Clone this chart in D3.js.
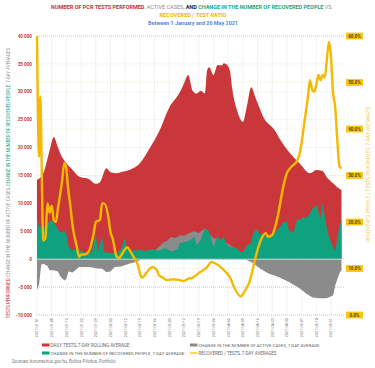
<!DOCTYPE html>
<html><head><meta charset="utf-8">
<script src="https://cdn.jsdelivr.net/npm/d3@7"></script>
<style>body{margin:0;background:#fff}svg{display:block;font-family:Roboto,"Liberation Sans",sans-serif}</style>
</head><body><svg id="c" width="375" height="368"></svg>
<script>
// ---------- DATA ----------
const testDates = ["2021-01-01","2021-01-04","2021-01-07","2021-01-09","2021-01-11","2021-01-12","2021-01-15","2021-01-18","2021-01-21","2021-01-26","2021-01-29","2021-01-31","2021-02-03","2021-02-05","2021-02-08","2021-02-11","2021-02-14","2021-02-19","2021-02-24","2021-02-28","2021-03-05","2021-03-10","2021-03-12","2021-03-14","2021-03-16","2021-03-18","2021-03-20","2021-03-22","2021-03-23","2021-03-24","2021-03-26","2021-03-28","2021-03-30","2021-03-31","2021-04-02","2021-04-03","2021-04-04","2021-04-06","2021-04-08","2021-04-09","2021-04-11","2021-04-13","2021-04-15","2021-04-17","2021-04-19","2021-04-22","2021-04-24","2021-04-27","2021-05-01","2021-05-06","2021-05-11","2021-05-14","2021-05-17","2021-05-19","2021-05-22","2021-05-24","2021-05-26"];
const testValues = [14200,15400,19500,21900,20000,19000,17200,16000,14800,14300,13500,13800,16300,15600,15400,15700,16000,17200,20100,22800,27200,29900,31500,33000,30300,29700,30200,29700,33800,34400,33000,34800,34700,35100,34600,33500,30500,27000,25000,24600,27500,30800,29000,27100,25300,24000,23200,21300,19200,17200,15400,16000,15800,14700,13600,12900,12400];

const recDays = [0,1,3,5,7,9,11,13,14,15,17,19,22,25,26,28,29,31,32,35,38,40,42,43,44,46,49,52,55,58,61,64,67,68,70,73,75,76,78,80,82,84,86,87,89,90,92,95,97,98,100,102,103,105,106,107,109,112,115,117,119,120,122,124,125,127,128,130,131,133,135,136,138,139,141,142,144,145];
const recValues = [7500,5800,5500,6500,7000,6000,4800,5000,4600,2200,1600,2000,1300,1100,1200,4500,1400,4000,1300,1100,1000,1800,3900,1400,1500,1600,1600,1500,1800,1500,2000,1400,1800,2900,3000,3400,4000,2500,3500,5500,5000,2200,4300,3400,4000,2800,2200,2000,1200,1300,2500,2900,4800,5400,4300,4800,4000,4300,5500,6500,6800,5200,4700,7300,7000,7600,7300,8200,9000,9700,7300,10000,5700,4000,2200,1500,6000,7000];

const actDays = [0,1,2,3,5,6,8,10,11,13,14,15,17,20,25,28,31,33,35,37,40,43,47,49,51,53,56,58,60,62,64,66,68,70,72,75,77,80,82,84,87,90,92,95,97,99,100,102,105,106,110,115,120,125,128,131,134,138,141,142,144,145];
const actValues = [-5500,-4500,-1000,-800,-1200,-2000,-2000,-2200,-3000,-3800,-3500,-2200,-2400,-1400,-1400,-1600,-1700,-2300,-2200,-1400,-1300,-900,-500,-200,300,800,1500,2200,3000,3300,4000,3800,4300,4200,4600,5000,4700,5500,4500,3800,3500,3000,2500,1700,1100,300,-200,-500,-1300,-1600,-2500,-3200,-4100,-5200,-6100,-6800,-7000,-7000,-6500,-4700,-2500,-2000];

const ratioDays = [0,1,1.5,3,4,5,6,7,8,9,10,12,13,14,14.3,16,17,19,20,21,22,24,25,27,28,30,31,32,34,35,36,38,39,41,43,44,46,48,49,50,52,54,55,57,58,60,62,65,68,70,72,74,77,81,83,86,88,90,92,94,97,99,101,103,105,107,109,110,112,113,115,117,119,121,124,126,127,129,130,131,132,133,134,135,136,137,138,139,140,141,142,143,144,145];
const ratioValues = [60,34,47,16,16.5,24,22,23.5,20.4,20,23,29,32.7,31.5,29.7,23,19,14.6,12.5,13,13,13.3,14,17.6,20,20.5,24,24,21,17.8,16.5,12.5,12.3,13.5,14.6,14,12.5,10.8,9,8,9,10.1,10.3,9.7,8.6,8,7.5,7.7,7.5,7.3,7.8,8,9,10.3,11.4,10.8,10.1,9.2,8,5.8,4,5.2,6.9,10.3,14,16.5,17.6,16.8,17.2,18.3,22,27,30.5,31.8,33.3,37,40.4,46.9,50.5,48.5,48,49.5,51.6,50.5,51.6,51,54.8,58.7,55.5,47.7,44.7,37.6,32,31.5];

const xTickLabels = ["2021-01-01","2021-01-08","2021-01-15","2021-01-22","2021-01-29","2021-02-05","2021-02-12","2021-02-19","2021-02-26","2021-03-05","2021-03-12","2021-03-19","2021-03-26","2021-04-02","2021-04-09","2021-04-16","2021-04-23","2021-04-30","2021-05-07","2021-05-14","2021-05-21"];
const leftTicks = [-10000,-5000,0,5000,10000,15000,20000,25000,30000,35000,40000];
const rightTicks = [0,10,20,30,40,50,60];

// ---------- SETUP ----------
const parse = d3.utcParse("%Y-%m-%d");
const start = parse("2021-01-01");
const dayToDate = d => new Date(start.getTime() + d*86400000);
const svg = d3.select("#c");
const L = 37, R = 341.5, T = 36, B = 315;
const x = d3.scaleUtc().domain([start, parse("2021-05-26")]).range([L, R]);
const y = d3.scaleLinear().domain([-10000, 40000]).range([B, T]);
const yR = d3.scaleLinear().domain([0, 60]).range([B, T]);

const RED = "#c9373a", GREEN = "#0fa27e", GRAY = "#8b8b8b", YEL = "#f6b900";

// grid
const g = svg.append("g");
g.selectAll("line.v").data(xTickLabels).join("line")
  .attr("x1", d => x(parse(d))).attr("x2", d => x(parse(d)))
  .attr("y1", T).attr("y2", B).attr("stroke", "#e9e9e9").attr("stroke-width", 0.6);
g.selectAll("line.h").data(leftTicks).join("line")
  .attr("x1", L).attr("x2", 344).attr("y1", d => y(d)).attr("y2", d => y(d))
  .attr("stroke", d => (d === 40000 || d === -5000 || d === -10000) ? "#d98a8a" : "#ead6d6")
  .attr("stroke-width", 0.6).attr("stroke-dasharray", "1,1");
g.selectAll("line.r").data(rightTicks.filter(d => d > 0 && d < 60)).join("line")
  .attr("x1", L).attr("x2", 344).attr("y1", d => yR(d)).attr("y2", d => yR(d))
  .attr("stroke", "#f3e4a6").attr("stroke-width", 0.6).attr("stroke-dasharray", "1,1.5");

// areas
const testData = testDates.map((d, i) => ({ date: parse(d), v: testValues[i] }));
const recData = recDays.map((d, i) => ({ date: dayToDate(d), v: recValues[i] }));
const actData = actDays.map((d, i) => ({ date: dayToDate(d), v: actValues[i] }));
const ratioData = ratioDays.map((d, i) => ({ date: dayToDate(d), v: ratioValues[i] }));

const area = d3.area().x(d => x(d.date)).y0(y(0)).y1(d => y(d.v)).curve(d3.curveMonotoneX);
const areaLin = d3.area().x(d => x(d.date)).y0(y(0)).y1(d => y(d.v)).curve(d3.curveLinear);
svg.append("path").datum(testData).attr("d", area).attr("fill", RED);
svg.append("path").datum(actData).attr("d", areaLin).attr("fill", GRAY);
svg.append("path").datum(recData).attr("d", areaLin).attr("fill", GREEN);
svg.append("line").attr("x1", L).attr("x2", 344).attr("y1", y(0)).attr("y2", y(0))
  .attr("stroke", "#e4e4e4").attr("stroke-width", 0.8);

// ratio line
const line = d3.line().x(d => x(d.date)).y(d => yR(d.v)).curve(d3.curveMonotoneX);
svg.append("path").datum(ratioData).attr("d", line).attr("fill", "none")
  .attr("stroke", YEL).attr("stroke-width", 2.4).attr("stroke-linejoin", "round");

// left axis labels
const fmt = v => d3.format(",")(v).replace(/,/g, " ").replace("−", "-");
svg.append("g").selectAll("text").data(leftTicks).join("text")
  .attr("x", 32).attr("y", d => y(d) + 1.6).attr("text-anchor", "end")
  .attr("font-size", 4.6).attr("font-weight", 700).attr("fill", "#c9373a").text(fmt);

// right axis labels
const rg = svg.append("g").selectAll("g").data(rightTicks).join("g")
  .attr("transform", d => `translate(${346},${yR(d)})`);
rg.append("rect").attr("x", 0).attr("y", -3.4).attr("width", 17).attr("height", 6.8).attr("fill", "#f7c51a");
rg.append("text").attr("x", 8.5).attr("y", 1.6).attr("text-anchor", "middle")
  .attr("font-size", 4.6).attr("font-weight", 700).attr("fill", "#5a4a00").text(d => d.toFixed(1) + "%");

// x labels
svg.append("g").selectAll("text").data(xTickLabels).join("text")
  .attr("transform", d => `translate(${x(parse(d)) + 1.4},318) rotate(-90)`)
  .attr("text-anchor", "end").attr("font-size", 3.8).attr("fill", "#777").text(d => d);

// titles (fit widths by measuring, no glyph stretching)
function fit(sel, target) {
  const fs = +sel.attr("font-size");
  const w = sel.node().getComputedTextLength();
  if (w > 0) sel.attr("font-size", fs * target / w);
}
const t1 = svg.append("text").attr("x", 192).attr("y", 9).attr("text-anchor", "middle")
  .attr("font-size", 5.6).attr("font-weight", 700);
t1.append("tspan").attr("fill", "#c9302c").text("NUMBER OF PCR TESTS PERFORMED");
t1.append("tspan").attr("fill", "#8a8a8a").attr("font-weight", 400).text(", ACTIVE CASES, ");
t1.append("tspan").attr("fill", "#222").text("AND ");
t1.append("tspan").attr("fill", "#1ba57f").text("CHANGE IN THE NUMBER OF RECOVERED PEOPLE");
t1.append("tspan").attr("fill", "#8a8a8a").attr("font-weight", 400).text(" VS.");
fit(t1, 282);
const t2 = svg.append("text").attr("x", 193).attr("y", 16.5).attr("text-anchor", "middle")
  .attr("font-size", 5.6).attr("font-weight", 700).attr("fill", "#f0b800").text("RECOVERED / TEST RATIO");
fit(t2, 67);
const t3 = svg.append("text").attr("x", 193).attr("y", 24.5).attr("text-anchor", "middle")
  .attr("font-size", 5.2).attr("font-weight", 700).attr("fill", "#4b8fd2").text("Between 1 January and 26 May 2021");
fit(t3, 90);

// left axis title
const lt = svg.append("text").attr("transform", "translate(9.5,183) rotate(-90)").attr("text-anchor", "middle")
  .attr("font-size", 4.4);
lt.append("tspan").attr("fill", "#c9302c").text("TESTS PERFORMED");
lt.append("tspan").attr("fill", "#999").text(", CHANGE IN THE NUMBER OF ACTIVE CASES, ");
lt.append("tspan").attr("fill", "#1ba57f").text("CHANGE IN THE NUMBER OF RECOVERED PEOPLE");
lt.append("tspan").attr("fill", "#999").text(", 7-DAY AVERAGES");
fit(lt, 270);
// right axis title
const rt = svg.append("text").attr("transform", "translate(369.5,174.5) rotate(-90)").attr("text-anchor", "middle")
  .attr("font-size", 4.4).attr("fill", "#f3c73a")
  .text("RECOVERED PEOPLE / TESTS PERFORMED, 7-DAY AVERAGES");
fit(rt, 135);

// legend
const legend = [
  { label: "DAILY TESTS, 7-DAY ROLLING AVERAGE", color: RED, type: "rect", x: 42, y: 345, w: 79 },
  { label: "CHANGE IN THE NUMBER OF ACTIVE CASES, 7-DAY AVERAGE", color: GRAY, type: "rect", x: 190, y: 345, w: 121 },
  { label: "CHANGE IN THE NUMBER OF RECOVERED PEOPLE, 7-DAY AVERAGE", color: GREEN, type: "rect", x: 42, y: 353, w: 134 },
  { label: "RECOVERED / TESTS, 7-DAY AVERAGES", color: YEL, type: "line", x: 190, y: 353, w: 78 }
];
const lg = svg.append("g").selectAll("g").data(legend).join("g");
lg.append("rect").attr("x", d => d.x).attr("y", d => d.type === "rect" ? d.y - 1.5 : d.y - 0.6)
  .attr("width", 7.5).attr("height", d => d.type === "rect" ? 3 : 1.2).attr("fill", d => d.color);
lg.append("text").attr("x", d => d.x + 8.5).attr("y", d => d.y + 1.5).attr("font-size", 4.2)
  .attr("fill", "#666").text(d => d.label).each(function(d) { fit(d3.select(this), d.w); });

const src = svg.append("text").attr("x", 12).attr("y", 362.5).attr("font-size", 4.2).attr("fill", "#777")
  .text("Sources: koronavirus.gov.hu, Boltos Pilvitos, Portfolio");
fit(src, 104);
</script></body></html>
